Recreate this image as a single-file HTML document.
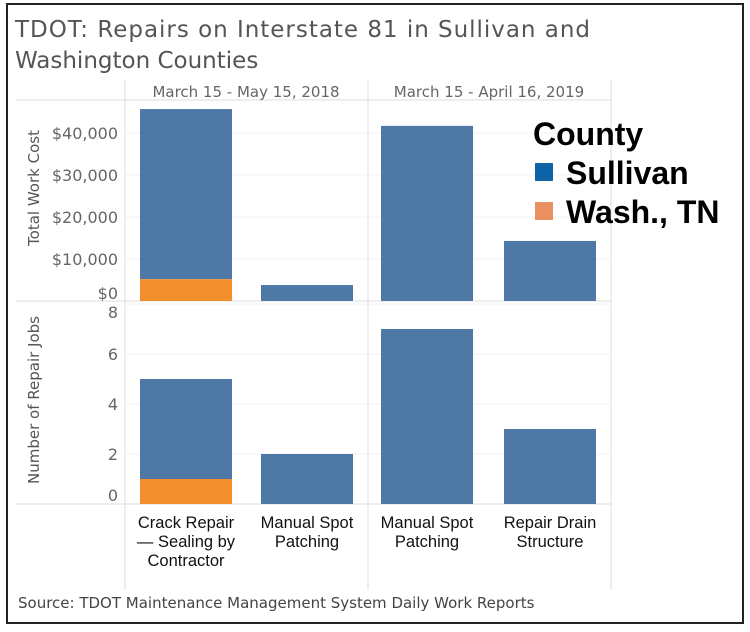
<!DOCTYPE html>
<html><head><meta charset="utf-8"><style>
body{margin:0;background:#fff;}
svg{display:block;font-family:"DejaVu Sans","Liberation Sans",sans-serif;}
.lg{font-family:"Liberation Sans Narrow","Liberation Sans",sans-serif;font-weight:bold;fill:#000;}
.cat{font-family:"Liberation Sans",sans-serif;}
</style></head><body>
<svg id="chart" width="750" height="632" viewBox="0 0 750 632">
<rect x="7" y="4" width="736" height="619" fill="#fff" stroke="#222" stroke-width="2"/>
<text x="15" y="37" font-size="23" fill="#555" textLength="575">TDOT: Repairs on Interstate 81 in Sullivan and</text>
<text x="15" y="68" font-size="23" fill="#555">Washington Counties</text>
<g id="grid"></g>
<text x="246" y="97" font-size="15" fill="#666" text-anchor="middle">March 15 - May 15, 2018</text>
<text x="489" y="97" font-size="15" fill="#666" text-anchor="middle">March 15 - April 16, 2019</text>
<text transform="translate(39,188) rotate(-90)" font-size="15" fill="#555" text-anchor="middle">Total Work Cost</text>
<text transform="translate(39,400) rotate(-90)" font-size="15" fill="#555" text-anchor="middle">Number of Repair Jobs</text>
<g id="marks"></g>
<text x="533" y="145" font-size="32" class="lg">County</text>
<rect x="535" y="163" width="18" height="18" fill="#0f64a8"/>
<text x="566" y="184" font-size="32" class="lg">Sullivan</text>
<rect x="535" y="202" width="18" height="18" fill="#e8905f"/>
<text x="566" y="223" font-size="32" class="lg">Wash., TN</text>
<text x="18" y="608" font-size="15" fill="#444">Source: TDOT Maintenance Management System Daily Work Reports</text>
</svg>
<script>
const categories=["Crack Repair|— Sealing by|Contractor","Manual Spot|Patching","Manual Spot|Patching","Repair Drain|Structure"];
const costSullivan=[40500,3800,41700,14300];
const costWash=[5200,0,0,0];
const jobsSullivan=[4,2,7,3];
const jobsWash=[1,0,0,0];
const costTicks=[0,10000,20000,30000,40000];
const costTickLabels=["$0","$10,000","$20,000","$30,000","$40,000"];
const jobTicks=[0,2,4,6,8];
const jobTickLabels=["0","2","4","6","8"];

const NS="http://www.w3.org/2000/svg";
const marks=document.getElementById('marks'),grid=document.getElementById('grid');
const yCost=v=>301-v*0.0042;
const yJobs=v=>504-v*25;
const xCenters=[186,307,427,550];
const bw=92;
function mk(tag,at,parent){const e=document.createElementNS(NS,tag);for(const k in at)e.setAttribute(k,at[k]);parent.appendChild(e);return e;}
const L=[[16,100,612,100],[16,301,612,301],[16,504,612,504],[125,80,125,590],[368,80,368,590],[611,80,611,590]];
L.forEach(l=>{const e=mk('line',{x1:l[0],y1:l[1],x2:l[2],y2:l[3],stroke:'#ddd','stroke-width':1},grid);

});
costTicks.forEach((t,i)=>{
 if(i>0){const g=mk('line',{x1:126,x2:611,y1:yCost(t),y2:yCost(t),stroke:'#f2f2f2'},grid);
 
 }
 const tx=mk('text',{x:118,y:yCost(t)+(t==0?-2:6),'font-size':16,fill:'#666','text-anchor':'end'},grid);tx.textContent=costTickLabels[i];
 
 
});
jobTicks.forEach((t,i)=>{
 if(i>0){const g=mk('line',{x1:126,x2:611,y1:yJobs(t),y2:yJobs(t),stroke:'#f2f2f2'},grid);
 
 }
 const tx=mk('text',{x:118,y:yJobs(t)+(t==8?14:(t==0?-3:6)),'font-size':16,fill:'#666','text-anchor':'end'},grid);tx.textContent=jobTickLabels[i];
 
 
});
categories.forEach((c,i)=>{
 const x=xCenters[i]-bw/2;
 const w=costWash[i],s=costSullivan[i];
 const b1=mk('rect',{x:x,width:bw,y:yCost(w+s),height:yCost(w)-yCost(w+s),fill:'#4e79a7'},marks);
 
 
 if(w>0){const b2=mk('rect',{x:x,width:bw,y:yCost(w),height:yCost(0)-yCost(w),fill:'#f28e2b'},marks);
 
 }
 const jw=jobsWash[i],js=jobsSullivan[i];
 const b3=mk('rect',{x:x,width:bw,y:yJobs(jw+js),height:yJobs(jw)-yJobs(jw+js),fill:'#4e79a7'},marks);
 
 
 if(jw>0){const b4=mk('rect',{x:x,width:bw,y:yJobs(jw),height:yJobs(0)-yJobs(jw),fill:'#f28e2b'},marks);
 
 }
 c.split('|').forEach((ln,j)=>{
  const t=mk('text',{x:xCenters[i],y:528+j*19,'font-size':16.5,fill:'#111','text-anchor':'middle','class':'cat'},marks);t.textContent=ln;
  
  
 });
});
</script>
</body></html>
